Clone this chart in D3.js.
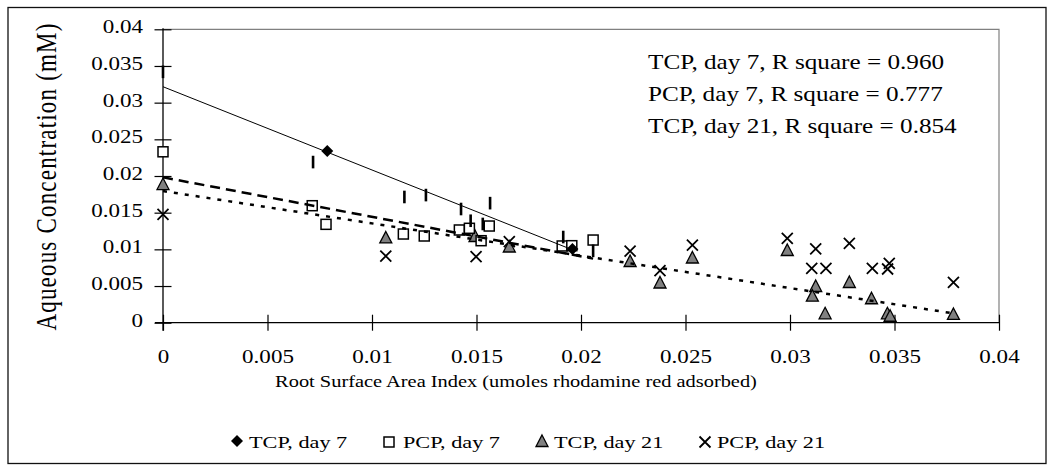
<!DOCTYPE html>
<html><head><meta charset="utf-8">
<script src="https://cdn.jsdelivr.net/npm/d3@7"></script>
<style>
body{margin:0;background:#fff}
svg{display:block}
text{font-family:"Liberation Serif","Times New Roman",serif;fill:#000}
</style>
</head><body>
<svg id="c" width="1054" height="471"></svg>
<script>
// ---- data ----
const yTicks = [0, 0.005, 0.01, 0.015, 0.02, 0.025, 0.03, 0.035, 0.04];
const xTicks = [0, 0.005, 0.01, 0.015, 0.02, 0.025, 0.03, 0.035, 0.04];
const tickLabels = ["0","0.005","0.01","0.015","0.02","0.025","0.03","0.035","0.04"];

const tcp7X = [0.00786, 0.01959];
const tcp7Y = [0.0234, 0.01005];
// TCP day 7 points drawn as short vertical bars in the source picture
const tcp7BarX = [0, 0.00718, 0.01155, 0.01258, 0.01426, 0.01565, 0.01472, 0.0153, 0.01915, 0.02058];
const tcp7BarY = [0.0342, 0.0219, 0.01714, 0.0174, 0.0155, 0.0163, 0.0139, 0.01346, 0.01168, 0.0098];

const pcp7X = [0, 0.00714, 0.0078, 0.0115, 0.0125, 0.01418, 0.01466, 0.01561, 0.01522, 0.0191, 0.01956, 0.02058];
const pcp7Y = [0.0233, 0.01595, 0.01341, 0.01209, 0.01182, 0.01264, 0.01287, 0.01318, 0.01118, 0.01046, 0.0105, 0.01127];

const tcp21X = [0, 0.01066, 0.01493, 0.01657, 0.02235, 0.02378, 0.02533, 0.02987, 0.03123, 0.03107, 0.03168, 0.03284, 0.0339, 0.03466, 0.03479, 0.03782];
const tcp21Y = [0.0189, 0.01162, 0.01182, 0.01039, 0.00841, 0.00548, 0.00889, 0.00991, 0.005, 0.00368, 0.00128, 0.00555, 0.00333, 0.00128, 0.00095, 0.00119];

const pcp21X = [0, 0.01066, 0.01498, 0.01657, 0.02235, 0.02378, 0.02533, 0.02987, 0.03123, 0.03104, 0.03172, 0.03284, 0.03394, 0.03467, 0.03475, 0.03782];
const pcp21Y = [0.01478, 0.00909, 0.009, 0.01104, 0.00977, 0.00709, 0.01059, 0.01151, 0.01005, 0.00742, 0.00742, 0.01082, 0.00742, 0.00732, 0.0081, 0.00551];

// linear trendlines: intercept, slope, x range end
const trendNames = ["TCP7", "PCP7", "TCP21"];
const trendIntercept = [0.03217, 0.01982, 0.01795];
const trendSlope = [-1.135, -0.5386, -0.441];
const trendXMax = [0.01959, 0.02058, 0.03782];

const annotations = ["TCP, day 7, R square = 0.960", "PCP, day 7, R square = 0.777", "TCP, day 21, R square = 0.854"];
const legendLabels = ["TCP, day 7", "PCP, day 7", "TCP, day 21", "PCP, day 21"];
const xTitle = "Root Surface Area Index (umoles rhodamine red adsorbed)";
const yTitle = "Aqueous Concentration (mM)";

// ---- layout ----
const svg = d3.select("#c");
const L = 163, R = 999, T = 29.3, B = 322.7;
const x = d3.scaleLinear().domain([0, 0.04]).range([L, R]);
const y = d3.scaleLinear().domain([0, 0.04]).range([B, T]);
const SX = 1.28;

function stext(px, py, str, size, anchor, sx, extra) {
  const g = svg.append("g").attr("transform", `translate(${px},${py}) scale(${sx},1)`);
  const t = g.append("text").attr("font-size", size).attr("text-anchor", anchor).text(str);
  if (extra) extra(t);
  return t;
}

// outer border
svg.append("rect").attr("x", 8).attr("y", 7.5).attr("width", 1038).attr("height", 456)
  .attr("fill", "none").attr("stroke", "#111").attr("stroke-width", 1.3);

// plot area border (top & right)
svg.append("path").attr("d", `M${L},${T}H${R}V${B}`).attr("fill", "none").attr("stroke", "#808080").attr("stroke-width", 1.2);

// y axis
const yAxis = d3.axisLeft(y).tickValues(yTicks).tickSize(8).tickFormat((d, i) => tickLabels[i]);
const gy = svg.append("g").attr("transform", `translate(${L},0)`).call(yAxis);
gy.select(".domain").remove();
gy.selectAll(".tick line").attr("x1", -8.5).attr("x2", 8.5).attr("stroke", "#000").attr("stroke-width", 1.2);
gy.selectAll(".tick text").attr("font-size", 18).attr("font-family", "Liberation Serif")
  .attr("x", -20 / SX).attr("dy", 3.4).attr("transform", `scale(${SX},1)`);
svg.append("line").attr("x1", L).attr("x2", L).attr("y1", T - 1).attr("y2", B + 8)
  .attr("stroke", "#000").attr("stroke-width", 1.3);

// x axis
const xAxis = d3.axisBottom(x).tickValues(xTicks).tickSize(8).tickFormat((d, i) => tickLabels[i]);
const gx = svg.append("g").attr("transform", `translate(0,${B})`).call(xAxis);
gx.select(".domain").remove();
gx.selectAll(".tick line").attr("y1", -8).attr("y2", 8).attr("stroke", "#000").attr("stroke-width", 1.2);
gx.selectAll(".tick text").attr("font-size", 18).attr("font-family", "Liberation Serif")
  .attr("y", 40.3).attr("dy", 0).attr("transform", `scale(${SX},1)`);
gx.selectAll(".tick").each(function () {
  const tr = d3.select(this).attr("transform");
  const m = /translate\(([-\d.]+),/.exec(tr);
  d3.select(this).attr("transform", `translate(${m[1]},0)`);
});
svg.append("line").attr("x1", L - 8).attr("x2", R).attr("y1", B).attr("y2", B)
  .attr("stroke", "#000").attr("stroke-width", 1.3);

// titles
stext(516, 387, xTitle, 17, "middle", 1.2);
svg.append("g").attr("transform", `translate(56,176.5) scale(1.27,1) rotate(-90)`)
  .append("text").attr("font-size", 23).attr("text-anchor", "middle").attr("letter-spacing", 1.2).text(yTitle);

// annotations
annotations.forEach((a, i) => stext(648, 69.3 + i * 32, a, 20, "start", 1.26));

// ---- marker shapes ----
const diamond = s => `M0,${-s}L${s},0L0,${s}L${-s},0Z`;
const tri = (w, h) => `M0,${-h / 2 - 0.5}L${w / 2},${h / 2}L${-w / 2},${h / 2}Z`;
const cross = s => `M${-s},${-s}L${s},${s}M${-s},${s}L${s},${-s}`;

function drawDiamond(g, cx, cy) {
  g.append("path").attr("d", diamond(6)).attr("transform", `translate(${cx},${cy})`).attr("fill", "#000");
}
function drawSquare(g, cx, cy) {
  g.append("rect").attr("x", cx - 5).attr("y", cy - 5).attr("width", 10).attr("height", 10)
    .attr("fill", "#fff").attr("stroke", "#000").attr("stroke-width", 1.5);
}
function drawTri(g, cx, cy) {
  g.append("path").attr("d", tri(12, 11)).attr("transform", `translate(${cx},${cy})`)
    .attr("fill", "#808080").attr("stroke", "#000").attr("stroke-width", 1.3).attr("stroke-linejoin", "miter");
}
function drawCross(g, cx, cy) {
  g.append("path").attr("d", cross(5.5)).attr("transform", `translate(${cx},${cy})`)
    .attr("stroke", "#000").attr("stroke-width", 1.8).attr("fill", "none");
}

const gm = svg.append("g");
pcp21X.forEach((v, i) => drawCross(gm, x(v), y(pcp21Y[i])));
tcp21X.forEach((v, i) => drawTri(gm, x(v), y(tcp21Y[i])));
pcp7X.forEach((v, i) => drawSquare(gm, x(v), y(pcp7Y[i])));
tcp7BarX.forEach((v, i) => gm.append("rect").attr("x", x(v) - 1.3).attr("y", y(tcp7BarY[i]) - 6.3)
  .attr("width", 2.6).attr("height", 12.6).attr("fill", "#000"));
tcp7X.forEach((v, i) => drawDiamond(gm, x(v), y(tcp7Y[i])));

// trendlines
const dashes = [null, "10,6", "4,7"];
const widths = [1, 2.5, 2.5];
trendNames.forEach((n, i) => {
  const pts = [[0, trendIntercept[i]], [trendXMax[i], trendIntercept[i] + trendSlope[i] * trendXMax[i]]];
  const ln = d3.line().x(d => x(d[0])).y(d => y(d[1]));
  const p = svg.append("path").attr("d", ln(pts)).attr("fill", "none").attr("stroke", "#000")
    .attr("stroke-width", widths[i]);
  if (dashes[i]) p.attr("stroke-dasharray", dashes[i]);
});

// legend
const legMX = [237, 389, 542, 705];
const legTX = [249, 403, 554, 717];
const legY = 441;
const lg = svg.append("g");
drawDiamond(lg, legMX[0], legY);
drawSquare(lg, legMX[1], legY + 1);
drawTri(lg, legMX[2], legY);
drawCross(lg, legMX[3], legY + 1);
legendLabels.forEach((t, i) => stext(legTX[i], legY + 6.5, t, 17.5, "start", 1.27));
</script>
</body></html>
